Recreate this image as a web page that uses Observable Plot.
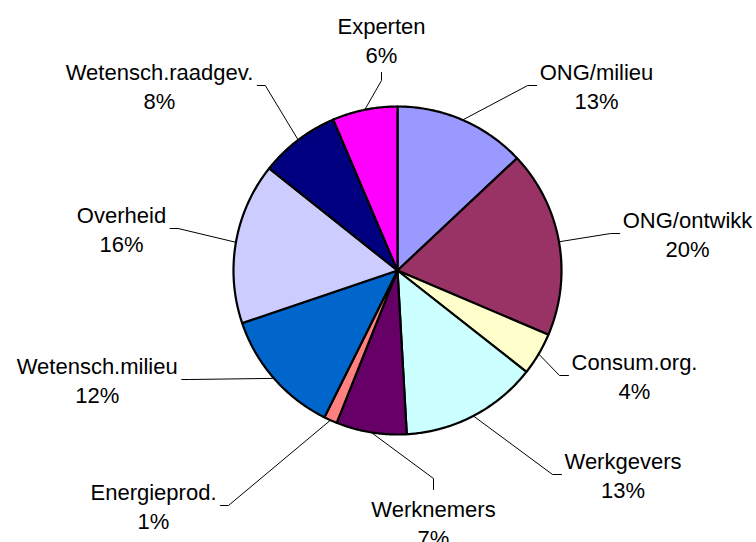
<!DOCTYPE html>
<html><head><meta charset="utf-8">
<script src="https://cdn.jsdelivr.net/npm/d3@7"></script>
<script src="https://cdn.jsdelivr.net/npm/@observablehq/plot@0.6"></script>
<style>body{margin:0;background:#fff}</style>
</head><body><div id="chart"></div>
<script>
// ---- data ----
const categories = ["ONG/milieu","ONG/ontwikk","Consum.org.","Werkgevers","Werknemers","Energieprod.","Wetensch.milieu","Overheid","Wetensch.raadgev.","Experten"];
const shares = [13.0, 18.4, 4.2, 13.5, 6.95, 1.3, 12.45, 15.9, 7.9, 6.4];
const pctLabels = ["13%","20%","4%","13%","7%","1%","12%","16%","8%","6%"];
const colors = ["#9999FF","#993366","#FFFFCC","#CCFFFF","#660066","#FF8080","#0066CC","#CCCCFF","#000080","#FF00FF"];

// ---- layout (chart units = pixels) ----
const W = 756, H = 542;
const center = [397, 270], radius = 164;
const FONT = 22, LH = 1.28, FAMILY = "Liberation Sans, Arial, sans-serif";
// label block middle positions and the side of the label box that the leader attaches to
const labelX = [596, 687, 634, 622.5, 433, 153, 96.7, 121, 159, 381];
const labelY = [85, 233, 375, 474, 522, 505, 379, 228, 85, 39];
const labelSide = ["left","left","left","left","top","right","right","right","right","bottom"];

const arcs = d3.pie().sort(null).startAngle(0).endAngle(2*Math.PI)(shares);
const pt = (a, r) => [center[0] + r*Math.sin(a), center[1] - r*Math.cos(a)];

const sliceRows = [];
arcs.forEach((a, i) => {
  const name = categories[i];
  sliceRows.push({name, x: center[0], y: center[1]});
  const n = Math.max(2, Math.ceil((a.endAngle - a.startAngle) / (Math.PI/360)));
  for (let k = 0; k <= n; k++) {
    const [x, y] = pt(a.startAngle + (a.endAngle - a.startAngle)*k/n, radius);
    sliceRows.push({name, x, y});
  }
  sliceRows.push({name, x: center[0], y: center[1]});
});

const ctx = document.createElement("canvas").getContext("2d");
ctx.font = `${FONT}px ${FAMILY}`;
const textW = s => ctx.measureText(s).width;

const labelRows = categories.map((name, i) => ({name, x: labelX[i], y: labelY[i], text: name + "\n" + pctLabels[i]}));

const leaderRows = [];
arcs.forEach((a, i) => {
  const name = categories[i];
  const mid = (a.startAngle + a.endAngle)/2;
  const [sx, sy] = pt(mid, radius);
  const w = Math.max(textW(name), textW(pctLabels[i]));
  const lx = labelX[i], ly = labelY[i];
  let ax, ay, ex, ey;
  switch (labelSide[i]) {
    case "left":  ax = lx - w/2 - 3; ay = ly; ex = ax - 9; ey = ly; break;
    case "right": ax = lx + w/2 + 4; ay = ly; ex = ax + 8; ey = ly; break;
    case "bottom": ax = lx; ay = ly + 33; ex = lx; ey = ay + 8; break;
    case "top": ax = lx; ay = ly - 33; ex = lx; ey = ay - 11; break;
  }
  leaderRows.push({name, x: ax, y: ay}, {name, x: ex, y: ey}, {name, x: sx, y: sy});
});

const chart = Plot.plot({
  width: W, height: H,
  margin: 0,
  x: {domain: [0, W], range: [0, W], axis: null},
  y: {domain: [0, H], range: [0, H], axis: null},
  color: {domain: categories, range: colors},
  style: {background: "#fff", fontFamily: FAMILY},
  marks: [
    Plot.line(leaderRows, {x: "x", y: "y", z: "name", stroke: "#000", strokeWidth: 1, curve: "linear"}),
    Plot.line(sliceRows, {x: "x", y: "y", z: "name", fill: "name", stroke: "#000", strokeWidth: 2.2, strokeLinejoin: "round", curve: "linear"}),
    Plot.text(labelRows, {x: "x", y: "y", text: "text", fontSize: FONT, lineHeight: LH, fill: "#000", fontFamily: FAMILY})
  ]
});
document.getElementById("chart").appendChild(chart);
</script>
</body></html>
